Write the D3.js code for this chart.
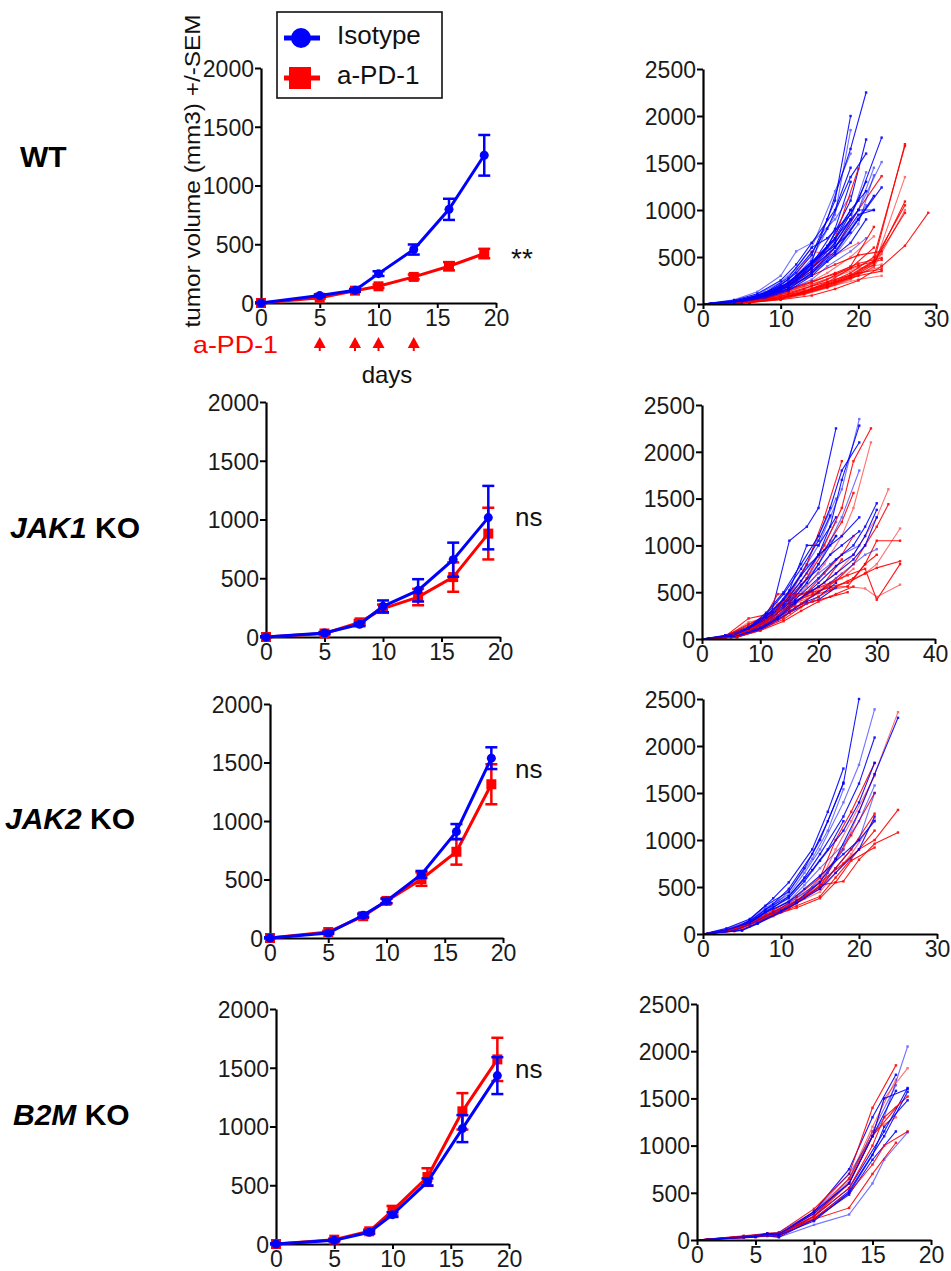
<!DOCTYPE html>
<html><head><meta charset="utf-8">
<script src="https://cdn.jsdelivr.net/npm/d3@7"></script>
<style>
body{margin:0;background:#fff}
svg{display:block}
text{font-family:Arial,"Liberation Sans",sans-serif}
</style>
</head><body>
<svg id="fig" width="951" height="1271"></svg>
<script>
// ---------------- DATA ----------------
const meanDays = [0, 5, 8, 10, 13, 16, 19];
const doseDays = [5, 8, 10, 13];
const rowLabels = ["WT", "JAK1 KO", "JAK2 KO", "B2M KO"];
const yTicksMean = [0, 500, 1000, 1500, 2000];
const xTicksMean = [0, 5, 10, 15, 20];
const yTicksInd = [0, 500, 1000, 1500, 2000, 2500];

const wtIsoMean  = [0, 63, 108, 250, 455, 797, 1257];
const wtIsoSem   = [5, 10, 12, 20, 43, 90, 173];
const wtPd1Mean  = [0, 45, 105, 142, 222, 313, 421];
const wtPd1Sem   = [5, 8, 10, 15, 20, 35, 40];
const jak1IsoMean = [0, 34, 108, 261, 397, 658, 1016];
const jak1IsoSem  = [5, 8, 15, 50, 95, 145, 270];
const jak1Pd1Mean = [0, 30, 125, 241, 340, 510, 880];
const jak1Pd1Sem  = [5, 8, 20, 35, 70, 125, 220];
const jak2IsoMean = [0, 43, 194, 317, 543, 909, 1537];
const jak2IsoSem  = [5, 8, 15, 20, 30, 65, 93];
const jak2Pd1Mean = [0, 51, 186, 317, 503, 737, 1314];
const jak2Pd1Sem  = [5, 10, 15, 20, 57, 110, 171];
const b2mIsoMean = [0, 31, 100, 250, 528, 982, 1433];
const b2mIsoSem  = [5, 8, 12, 20, 30, 115, 157];
const b2mPd1Mean = [0, 37, 108, 284, 570, 1129, 1571];
const b2mPd1Sem  = [5, 10, 15, 40, 75, 155, 184];
const significance = ["**", "ns", "ns", "ns"];

// individual-mouse measurement schedules (days)
const wtSchedules = {
  A: [0, 4, 7, 10, 12, 14, 17, 19],
  B: [0, 5, 8, 11, 14, 16, 19, 21],
  C: [0, 5, 8, 11, 14, 17, 20, 22],
  D: [0, 4, 7, 11, 14, 17, 20, 23],
  RA: [0, 5, 8, 11, 14, 17, 20, 23],
  RB: [0, 6, 10, 13, 16, 19, 22, 26],
  RC: [0, 6, 10, 14, 17, 20, 23, 26, 29]
};
const wtIsoTraces = [
  {s:"A", v:[0,30,90,200,330,520,1100,2000]},
  {s:"A", v:[0,25,80,180,300,480,950,1850]},
  {s:"A", v:[0,40,110,250,420,650,1000,1450]},
  {s:"A", v:[0,20,70,150,260,420,800,1300]},
  {s:"A", v:[0,35,100,230,380,600,1200,1600]},
  {s:"A", v:[0,30,85,170,280,430,700,1000]},
  {s:"A", v:[0,25,75,160,240,380,650,900]},
  {s:"A", v:[0,45,130,300,560,650,900,1150]},
  {s:"B", v:[0,30,95,220,450,900,1650,2250]},
  {s:"B", v:[0,25,80,190,380,600,1100,1750]},
  {s:"B", v:[0,20,70,160,320,520,900,1400]},
  {s:"B", v:[0,35,110,260,550,800,1350,1600]},
  {s:"B", v:[0,30,90,200,400,620,1000,1200]},
  {s:"B", v:[0,25,75,170,330,500,800,1050]},
  {s:"B", v:[0,40,120,280,600,700,950,1300]},
  {s:"B", v:[0,20,60,140,300,450,650,900]},
  {s:"C", v:[0,30,90,210,420,650,1000,1450]},
  {s:"C", v:[0,25,80,180,350,560,900,1150]},
  {s:"C", v:[0,35,100,230,450,700,1000,1000]},
  {s:"C", v:[0,20,70,160,320,520,850,1370]},
  {s:"C", v:[0,30,85,190,380,600,950,1000]},
  {s:"D", v:[0,30,90,220,430,680,1100,1770]},
  {s:"D", v:[0,25,80,190,380,600,1000,1510]},
  {s:"D", v:[0,20,65,160,330,540,900,1240]},
  {s:"A", v:[0,30,80,170,290,450,620,760]},
  {s:"B", v:[0,25,70,150,260,400,560,700]}
];
const wtPd1Traces = [
  {s:"RA", v:[0,20,60,120,190,260,330,370]},
  {s:"RA", v:[0,25,70,140,210,290,380,420]},
  {s:"RA", v:[0,15,50,100,160,230,300,350]},
  {s:"RA", v:[0,30,80,160,240,320,410,470]},
  {s:"RA", v:[0,20,55,110,170,240,320,400]},
  {s:"RA", v:[0,25,75,150,230,330,430,490]},
  {s:"RA", v:[0,35,90,190,300,420,520,560]},
  {s:"RA", v:[0,20,60,130,210,300,400,530]},
  {s:"RA", v:[0,30,90,200,350,600,1000,1360]},
  {s:"RA", v:[0,30,90,210,380,700,1440]},
  {s:"RA", v:[0,25,80,180,560,520,650]},
  {s:"RB", v:[0,20,60,120,200,300,450,1700]},
  {s:"RB", v:[0,25,70,130,220,330,500,1680]},
  {s:"RB", v:[0,15,50,100,170,260,400,1350]},
  {s:"RB", v:[0,20,55,110,180,280,420,1090]},
  {s:"RB", v:[0,25,65,125,210,310,460,1050]},
  {s:"RB", v:[0,18,50,105,175,270,390,1000]},
  {s:"RB", v:[0,22,60,115,190,290,440,970]},
  {s:"RB", v:[0,30,80,160,260,400,820]},
  {s:"RB", v:[0,35,100,200,330,500,720]},
  {s:"RB", v:[0,20,60,130,230,380,600]},
  {s:"RC", v:[0,15,45,90,160,250,400,620,970]},
  {s:"RA", v:[0,15,40,90,140,200,260,300]}
];

const jak1Schedules = {
  A: [0, 4, 8, 12, 15, 18, 20, 23],
  B: [0, 5, 8, 11, 14, 17, 20, 22, 24, 27],
  C: [0, 6, 10, 13, 16, 20, 23, 26, 28, 30],
  RA: [0, 4, 8, 11, 13, 16, 19, 22, 25, 28, 30, 34],
  RB: [0, 5, 8, 12, 15, 18, 21, 24, 26, 29],
  RC: [0, 6, 10, 14, 17, 20, 23, 26, 28, 30, 32]
};
const jak1IsoTraces = [
  {s:"A", v:[0,40,130,300,1050,1200,1400,2250]},
  {s:"A", v:[0,30,100,250,450,800,1100,1500]},
  {s:"A", v:[0,35,120,280,520,1000,1000,1300]},
  {s:"A", v:[0,25,90,220,380,600,800,1100]},
  {s:"A", v:[0,30,100,230,400,650,900,1250]},
  {s:"A", v:[0,25,85,200,300,400,450,600]},
  {s:"A", v:[0,20,70,180,280,380,420,550]},
  {s:"B", v:[0,30,110,250,420,700,1000,1300,1600,2350]},
  {s:"B", v:[0,25,90,220,380,620,900,1200,1700,2280]},
  {s:"B", v:[0,35,120,280,500,800,1100,1400,1800,2100]},
  {s:"B", v:[0,20,80,200,350,560,800,1050,1300,1800]},
  {s:"B", v:[0,30,100,240,420,680,900,1000,1100,1300]},
  {s:"B", v:[0,25,90,210,360,580,750,900,1000,1150]},
  {s:"B", v:[0,20,75,190,330,520,700,800,900,1000]},
  {s:"C", v:[0,30,120,250,420,650,850,1000,1200,1450]},
  {s:"C", v:[0,25,100,220,380,600,780,900,1100,1380]},
  {s:"C", v:[0,20,90,200,330,500,650,800,900,960]},
  {s:"C", v:[0,30,110,230,400,560,700,850,1000,1300]},
  {s:"B", v:[0,30,110,260,480,750,1050,1320]},
  {s:"A", v:[0,35,110,260,500,780,880,1100]}
];
const jak1Pd1Traces = [
  {s:"RA", v:[0,30,220,260,480,480,500,550,560,800,1050,1050]},
  {s:"RA", v:[0,20,180,230,380,420,470,520,560,540,450,580]},
  {s:"RA", v:[0,25,150,250,350,400,480,560,600,700,760,830]},
  {s:"RA", v:[0,30,160,240,360,450,520,600,680,750,420,800]},
  {s:"RA", v:[0,20,120,200,300,380,460,520,620,700,800,1180]},
  {s:"RB", v:[0,30,110,250,450,700,1000,1400,1900,2250]},
  {s:"RB", v:[0,25,100,220,400,650,950,1250,1560]},
  {s:"RB", v:[0,20,90,200,360,560,800,1100,1400,2100]},
  {s:"RB", v:[0,30,110,260,480,800,1300,1900]},
  {s:"RB", v:[0,20,80,180,320,500,700,900,1100]},
  {s:"RC", v:[0,30,130,260,420,560,700,900,1100,1300,1600]},
  {s:"RC", v:[0,25,110,230,380,500,620,800,1000,1200,1440]},
  {s:"RC", v:[0,20,100,210,340,450,560,650,800,900]},
  {s:"RB", v:[0,20,80,170,280,420,550,700]},
  {s:"RB", v:[0,25,95,200,350,480,600,850]},
  {s:"RA", v:[0,15,100,200,300,350,400,450,500]},
  {s:"RB", v:[0,25,90,220,480,470,560,650,750]},
  {s:"RC", v:[0,20,90,190,300,400,480,560]}
];

const jak2Schedules = {
  A: [0, 3, 6, 8, 11, 13, 15, 18, 20, 22],
  B: [0, 4, 6, 9, 11, 14, 16, 18],
  C: [0, 5, 7, 10, 12, 15, 17, 20, 22, 25],
  RA: [0, 4, 6, 9, 12, 15, 17, 19, 22],
  RB: [0, 3, 6, 8, 11, 13, 15, 18, 20, 22, 25]
};
const jak2IsoTraces = [
  {s:"A", v:[0,60,160,300,450,700,1000,1600,2500]},
  {s:"A", v:[0,50,140,280,420,650,900,1400,1800,2390]},
  {s:"A", v:[0,45,130,260,400,600,850,1250,1600,2090]},
  {s:"A", v:[0,40,120,240,380,560,780,1100,1400,1820]},
  {s:"A", v:[0,35,110,220,350,520,700,950,1200,1580]},
  {s:"B", v:[0,55,150,380,550,900,1300,1760]},
  {s:"B", v:[0,50,140,320,480,850,1200,1610]},
  {s:"B", v:[0,45,130,300,450,800,1100,1540]},
  {s:"B", v:[0,40,120,280,400,680,900,1200]},
  {s:"C", v:[0,40,120,250,350,550,800,1300,1700,2300]},
  {s:"C", v:[0,35,110,230,330,500,700,1000,1500]},
  {s:"C", v:[0,40,110,240,330,480,650,900,1250]},
  {s:"A", v:[0,40,120,230,340,480,620,850,1000,1200]},
  {s:"B", v:[0,35,100,230,330,500,650,900]}
];
const jak2Pd1Traces = [
  {s:"RA", v:[0,50,120,250,400,600,1000,1300,1820]},
  {s:"RA", v:[0,45,110,230,380,550,900,1200,1680]},
  {s:"RA", v:[0,40,100,220,350,500,800,1050,1500]},
  {s:"RA", v:[0,40,110,240,360,480,700,900,1280]},
  {s:"RA", v:[0,35,90,210,330,450,650,850,1220]},
  {s:"RA", v:[0,30,80,190,300,400,600,800,1100]},
  {s:"RA", v:[0,35,100,200,280,380,550,780,920]},
  {s:"RB", v:[0,40,120,200,300,420,600,900,1300,1700,2360]},
  {s:"RB", v:[0,35,110,190,280,400,550,750,900,1000,1320]},
  {s:"RB", v:[0,30,100,180,270,380,520,560,790,960,1080]},
  {s:"RA", v:[0,40,110,230,340,520,700,900]}
];

const b2mSchedules = {
  A: [0, 4, 6, 7, 10, 13, 15, 17],
  B: [0, 5, 6, 7, 10, 13, 15, 16, 18],
  C: [0, 4, 7, 10, 13, 16, 18]
};
const b2mIsoTraces = [
  {s:"A", v:[0,40,60,50,300,750,1300,1750]},
  {s:"A", v:[0,30,50,40,250,650,1150,1640]},
  {s:"A", v:[0,35,55,60,280,600,1100,1580]},
  {s:"A", v:[0,25,45,30,220,480,850,1150]},
  {s:"C", v:[0,40,80,300,700,1300,2050]},
  {s:"C", v:[0,30,60,250,550,1150,1610]},
  {s:"C", v:[0,35,70,220,520,1100,1570]},
  {s:"B", v:[0,30,40,30,160,270,600,850,1140]},
  {s:"B", v:[0,35,60,50,200,500,900,1200,1480]},
  {s:"B", v:[0,40,70,60,300,600,1100,1500,1600]}
];
const b2mPd1Traces = [
  {s:"A", v:[0,45,70,80,330,700,1400,1850]},
  {s:"A", v:[0,40,60,50,280,650,1200,1700]},
  {s:"A", v:[0,35,50,60,250,600,1100,1400]},
  {s:"A", v:[0,30,45,40,220,340,700,1030]},
  {s:"B", v:[0,40,70,60,300,650,1100,1500,1820]},
  {s:"B", v:[0,35,55,50,250,550,1000,1300,1520]},
  {s:"B", v:[0,30,50,60,230,500,800,1000,1150]},
  {s:"A", v:[0,40,60,70,260,620,1150,1300]}
];

// ---------------- LAYOUT ----------------
const BLUE = "#0000ff", RED = "#ff0000";
const svg = d3.select("#fig");

const meanPanels = [
  {x0:261, x1:496, y0:303, y1:68,  iso:wtIsoMean, isoE:wtIsoSem, pd:wtPd1Mean, pdE:wtPd1Sem, sigX:511, sigY:268, sigSize:28},
  {x0:266, x1:500, y0:637, y1:402, iso:jak1IsoMean, isoE:jak1IsoSem, pd:jak1Pd1Mean, pdE:jak1Pd1Sem, sigX:515, sigY:526, sigSize:26},
  {x0:270, x1:503, y0:938, y1:704, iso:jak2IsoMean, isoE:jak2IsoSem, pd:jak2Pd1Mean, pdE:jak2Pd1Sem, sigX:515, sigY:778, sigSize:26},
  {x0:276, x1:509, y0:1244, y1:1009, iso:b2mIsoMean, isoE:b2mIsoSem, pd:b2mPd1Mean, pdE:b2mPd1Sem, sigX:515, sigY:1078, sigSize:26}
];
const indPanels = [
  {x0:703, x1:936, y0:304, y1:69,  xMax:30, xTicks:[0,10,20,30], sched:wtSchedules, iso:wtIsoTraces, pd:wtPd1Traces},
  {x0:702, x1:935, y0:639, y1:405, xMax:40, xTicks:[0,10,20,30,40], sched:jak1Schedules, iso:jak1IsoTraces, pd:jak1Pd1Traces},
  {x0:703, x1:937, y0:934, y1:699, xMax:30, xTicks:[0,10,20,30], sched:jak2Schedules, iso:jak2IsoTraces, pd:jak2Pd1Traces},
  {x0:697, x1:931, y0:1240, y1:1004, xMax:20, xTicks:[0,5,10,15,20], sched:b2mSchedules, iso:b2mIsoTraces, pd:b2mPd1Traces}
];
const labelPos = [{x:20, y:167}, {x:10, y:538}, {x:5, y:829}, {x:13, y:1125}];

function drawAxes(g, xs, ys, xTicks, yTicks) {
  const ax = g.append("g").attr("transform", `translate(0,${ys.range()[0]})`)
    .call(d3.axisBottom(xs).tickValues(xTicks).tickFormat(d3.format("d"))
      .tickSize(5).tickSizeOuter(0).tickPadding(1));
  const ay = g.append("g").attr("transform", `translate(${xs.range()[0]},0)`)
    .call(d3.axisLeft(ys).tickValues(yTicks).tickFormat(d3.format("d"))
      .tickSize(6).tickSizeOuter(0).tickPadding(1));
  [ax, ay].forEach(a => {
    a.select(".domain").attr("stroke", "#000").attr("stroke-width", 2.2);
    a.selectAll(".tick line").attr("stroke", "#000").attr("stroke-width", 2);
    a.selectAll(".tick text").attr("font-size", 23).attr("fill", "#1a1a1a")
      .attr("font-family", "Arial, 'Liberation Sans', sans-serif");
  });
  ax.selectAll(".tick text").attr("dy", "0.72em");
  ay.selectAll(".tick text").attr("dy", "0.36em");
}

// mean panels
meanPanels.forEach((p, i) => {
  const g = svg.append("g");
  const xs = d3.scaleLinear().domain([0, 20]).range([p.x0, p.x1]);
  const ys = d3.scaleLinear().domain([0, 2000]).range([p.y0, p.y1]);
  drawAxes(g, xs, ys, xTicksMean, yTicksMean);
  const line = d3.line().x((d, j) => xs(meanDays[j])).y(d => ys(d));
  const groups = [
    {m:p.pd, e:p.pdE, c:RED, shape:"square"},
    {m:p.iso, e:p.isoE, c:BLUE, shape:"circle"}
  ];
  groups.forEach(gr => {
    g.append("path").datum(gr.m).attr("d", line).attr("fill", "none")
      .attr("stroke", gr.c).attr("stroke-width", 3);
    gr.m.forEach((v, j) => {
      const x = xs(meanDays[j]);
      const lo = ys(Math.max(0, v - gr.e[j])), hi = ys(v + gr.e[j]);
      g.append("line").attr("x1", x).attr("x2", x).attr("y1", lo).attr("y2", hi)
        .attr("stroke", gr.c).attr("stroke-width", 2.5);
      [lo, hi].forEach(yy => g.append("line").attr("x1", x - 6).attr("x2", x + 6)
        .attr("y1", yy).attr("y2", yy).attr("stroke", gr.c).attr("stroke-width", 2.5));
      if (gr.shape === "circle") {
        g.append("circle").attr("cx", x).attr("cy", ys(v)).attr("r", 4.5).attr("fill", gr.c);
      } else {
        g.append("rect").attr("x", x - 5).attr("y", ys(v) - 5).attr("width", 10).attr("height", 10).attr("fill", gr.c);
      }
    });
  });
  g.append("text").attr("x", p.sigX).attr("y", p.sigY).attr("font-size", p.sigSize)
    .attr("fill", "#111").text(significance[i]);

  if (i === 0) {
    // y-axis title
    g.append("text").attr("transform", `translate(200,171) rotate(-90)`)
      .attr("text-anchor", "middle").attr("font-size", 22).attr("fill", "#111")
      .attr("textLength", 313).attr("lengthAdjust", "spacingAndGlyphs")
      .text("tumor volume (mm3) +/-SEM");
    // dosing
    g.append("text").attr("x", 193).attr("y", 353).attr("font-size", 24).attr("fill", RED)
      .attr("textLength", 85).attr("lengthAdjust", "spacingAndGlyphs").text("a-PD-1");
    doseDays.forEach(d => {
      const x = xs(d);
      g.append("path").attr("d", `M${x},337 L${x + 6},348 L${x - 6},348 Z`).attr("fill", RED);
      g.append("rect").attr("x", x - 1).attr("y", 347).attr("width", 2).attr("height", 4).attr("fill", RED);
    });
    g.append("text").attr("x", 387).attr("y", 383).attr("text-anchor", "middle")
      .attr("font-size", 24).attr("fill", "#111").text("days");
    // legend
    const lg = svg.append("g");
    lg.append("rect").attr("x", 277).attr("y", 12).attr("width", 165).attr("height", 86)
      .attr("fill", "#fff").attr("stroke", "#111").attr("stroke-width", 1.6);
    lg.append("line").attr("x1", 284).attr("x2", 320).attr("y1", 38).attr("y2", 38)
      .attr("stroke", BLUE).attr("stroke-width", 5);
    lg.append("circle").attr("cx", 301).attr("cy", 38).attr("r", 10).attr("fill", BLUE);
    lg.append("line").attr("x1", 284).attr("x2", 320).attr("y1", 78).attr("y2", 78)
      .attr("stroke", RED).attr("stroke-width", 5);
    lg.append("rect").attr("x", 289).attr("y", 67).attr("width", 22).attr("height", 22).attr("fill", RED);
    lg.append("text").attr("x", 337).attr("y", 44).attr("font-size", 26).attr("fill", "#111").text("Isotype");
    lg.append("text").attr("x", 337).attr("y", 84).attr("font-size", 26).attr("fill", "#111").text("a-PD-1");
  }
});

// individual panels
indPanels.forEach(p => {
  const g = svg.append("g");
  const xs = d3.scaleLinear().domain([0, p.xMax]).range([p.x0, p.x1]);
  const ys = d3.scaleLinear().domain([0, 2500]).range([p.y0, p.y1]);
  const traces = [];
  const n = Math.max(p.iso.length, p.pd.length);
  for (let k = 0; k < n; k++) {
    if (p.iso[k]) traces.push({t:p.iso[k], c:BLUE, k});
    if (p.pd[k]) traces.push({t:p.pd[k], c:RED, k});
  }
  traces.forEach(tr => {
    const days = p.sched[tr.t.s];
    const pts = tr.t.v.map((v, j) => [days[j], v]);
    const op = tr.k % 3 === 1 ? 0.55 : 0.9;
    const tg = g.append("g").attr("opacity", op);
    tg.append("path").datum(pts)
      .attr("d", d3.line().x(d => xs(d[0])).y(d => ys(d[1])))
      .attr("fill", "none").attr("stroke", tr.c).attr("stroke-width", 1.1);
    tg.selectAll("rect").data(pts.slice(1)).join("rect")
      .attr("x", d => xs(d[0]) - 1.2).attr("y", d => ys(d[1]) - 1.2)
      .attr("width", 2.4).attr("height", 2.4).attr("fill", tr.c);
  });
  drawAxes(g, xs, ys, p.xTicks, yTicksInd);
});

// row labels
const gl = svg.append("g");
rowLabels.forEach((lab, i) => {
  const t = gl.append("text").attr("x", labelPos[i].x).attr("y", labelPos[i].y)
    .attr("font-size", 30).attr("font-weight", "bold").attr("fill", "#000");
  const parts = lab.split(" ");
  if (parts.length === 1) {
    t.text(lab);
  } else {
    t.append("tspan").attr("font-style", "italic").text(parts[0]);
    t.append("tspan").text(" " + parts[1]);
  }
});
</script>
</body></html>
